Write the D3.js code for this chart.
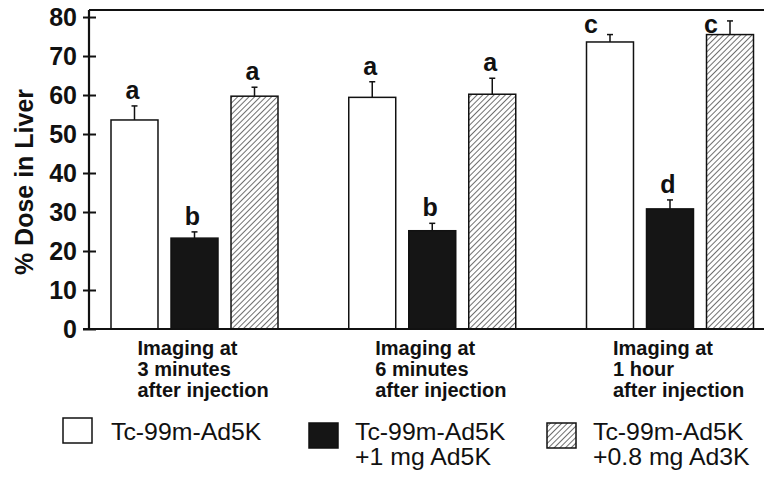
<!DOCTYPE html>
<html>
<head>
<meta charset="utf-8">
<script src="https://cdn.jsdelivr.net/npm/d3@7"></script>
<style>
  body { margin: 0; background: #fff; }
  svg { display: block; }
  text { font-family: "Liberation Sans", Arial, Helvetica, sans-serif; fill: #111; }
</style>
</head>
<body>
<div id="chart"></div>
<script>
const groups = ["3 minutes", "6 minutes", "1 hour"];
const groupLabels = [
    ["Imaging at", "3 minutes", "after injection"],
    ["Imaging at", "6 minutes", "after injection"],
    ["Imaging at", "1 hour", "after injection"]
];
const series = ["Tc-99m-Ad5K", "Tc-99m-Ad5K +1 mg Ad5K", "Tc-99m-Ad5K +0.8 mg Ad3K"];
const seriesLegend = [["Tc-99m-Ad5K"], ["Tc-99m-Ad5K", "+1 mg Ad5K"], ["Tc-99m-Ad5K", "+0.8 mg Ad3K"]];

const ad5k = [53.6, 59.4, 73.6];
const ad5kErr = [3.6, 4.0, 1.9];
const ad5kBlock = [23.3, 25.2, 30.8];
const ad5kBlockErr = [1.6, 1.9, 2.3];
const ad3kBlock = [59.7, 60.2, 75.5];
const ad3kBlockErr = [2.3, 4.1, 3.5];

const letters = [["a", "a", "c"], ["b", "b", "d"], ["a", "a", "c"]];
const yTicks = [0, 10, 20, 30, 40, 50, 60, 70, 80];

const values = [ad5k, ad5kBlock, ad3kBlock];
const errors = [ad5kErr, ad5kBlockErr, ad3kBlockErr];

const width = 764, height = 478;
const plot = {left: 89, right: 764, top: 10, bottom: 329};

const svg = d3.select('#chart').append('svg')
    .attr('width', width)
    .attr('height', height);

const defs = svg.append('defs');
const hatch = defs.append('pattern')
    .attr('id', 'hatch')
    .attr('patternUnits', 'userSpaceOnUse')
    .attr('width', 4)
    .attr('height', 4)
    .attr('patternTransform', 'rotate(45)');
hatch.append('rect').attr('width', 4).attr('height', 4).attr('fill', '#fff');
hatch.append('line')
    .attr('x1', 0).attr('y1', 0).attr('x2', 0).attr('y2', 4)
    .attr('stroke', '#222')
    .attr('stroke-width', 1.3);

const fills = ['#fff', '#151515', 'url(#hatch)'];

const x = d3.scalePoint()
    .domain(groups)
    .range([plot.left + 105.5, plot.right - 94]);

const xInner = d3.scaleBand()
    .domain(series)
    .range([-83.5, 83.5])
    .paddingInner(0.217);

const y = d3.scaleLinear()
    .domain([0, 81.8])
    .range([plot.bottom, plot.top]);

// top frame line
svg.append('line')
    .attr('x1', plot.left).attr('x2', plot.right)
    .attr('y1', y(81.8)).attr('y2', y(81.8))
    .attr('stroke', '#111').attr('stroke-width', 2);

// bars
const barData = [];
series.forEach((s, si) => {
    groups.forEach((g, gi) => {
        barData.push({s, si, g, gi, v: values[si][gi], e: errors[si][gi], letter: letters[si][gi]});
    });
});

const bars = svg.append('g');

bars.selectAll('.err')
    .data(barData)
    .enter().append('g')
    .attr('class', 'err')
    .each(function(d) {
        const cx = x(d.g) + xInner(d.s) + xInner.bandwidth() / 2;
        const g = d3.select(this);
        g.append('line')
            .attr('x1', cx).attr('x2', cx)
            .attr('y1', y(d.v)).attr('y2', y(d.v + d.e))
            .attr('stroke', '#111').attr('stroke-width', 1.5);
        g.append('line')
            .attr('x1', cx - 3).attr('x2', cx + 3)
            .attr('y1', y(d.v + d.e)).attr('y2', y(d.v + d.e))
            .attr('stroke', '#111').attr('stroke-width', 1.5);
    });

bars.selectAll('.bar')
    .data(barData)
    .enter().append('rect')
    .attr('class', 'bar')
    .attr('x', d => x(d.g) + xInner(d.s))
    .attr('y', d => y(d.v))
    .attr('width', xInner.bandwidth())
    .attr('height', d => y(0) - y(d.v))
    .attr('fill', d => fills[d.si])
    .attr('stroke', '#111')
    .attr('stroke-width', 1.5);

// significance letters (moved left of the bar when too close to the top)
bars.selectAll('.letter')
    .data(barData)
    .enter().append('text')
    .attr('class', 'letter')
    .attr('x', d => {
        const cx = x(d.g) + xInner(d.s) + xInner.bandwidth() / 2;
        return y(d.v + d.e) - 8 < 40 ? cx - 19 : cx - 2;
    })
    .attr('y', d => y(d.v + d.e) - 8 < 40 ? 33 : y(d.v + d.e) - 7)
    .attr('text-anchor', 'middle')
    .style('font-size', '25px')
    .style('font-weight', 'bold')
    .text(d => d.letter);

// y axis
const yAxis = svg.append('g')
    .attr('transform', `translate(${plot.left},0)`)
    .call(d3.axisLeft(y).tickValues(yTicks).tickSize(6).tickPadding(6));
yAxis.select('.domain').remove();
yAxis.selectAll('.tick line')
    .attr('x1', 7)
    .attr('stroke', '#111')
    .attr('stroke-width', 2);
yAxis.selectAll('.tick text')
    .style('font-family', '"Liberation Sans", Arial, sans-serif')
    .style('font-size', '25px')
    .style('font-weight', 'bold')
    .attr('fill', '#111');

svg.append('line')
    .attr('x1', plot.left).attr('x2', plot.left)
    .attr('y1', y(81.8)).attr('y2', y(0) + 1)
    .attr('stroke', '#111').attr('stroke-width', 2.2);

svg.append('line')
    .attr('x1', plot.left - 6).attr('x2', plot.right)
    .attr('y1', y(0)).attr('y2', y(0))
    .attr('stroke', '#111').attr('stroke-width', 2);

svg.append('text')
    .attr('transform', `translate(33,${182}) rotate(-90)`)
    .attr('text-anchor', 'middle')
    .style('font-size', '25px')
    .style('font-weight', 'bold')
    .text('% Dose in Liver');

// category labels, one text per line
const cat = svg.append('g');
groups.forEach((g, gi) => {
    groupLabels[gi].forEach((line, li) => {
        cat.append('text')
            .attr('x', x(g) - 57)
            .attr('y', 355 + li * 21)
            .style('font-size', '20px')
            .style('font-weight', 'bold')
            .text(line);
    });
});

// legend
const legendX = [63, 309, 547];
const legend = svg.append('g');
series.forEach((s, si) => {
    const lx = legendX[si];
    legend.append('rect')
        .attr('x', lx)
        .attr('y', si === 0 ? 418 : 423)
        .attr('width', 29)
        .attr('height', 25)
        .attr('fill', fills[si])
        .attr('stroke', '#111')
        .attr('stroke-width', 1.5);
    const tx = lx + (si === 0 ? 48 : 46);
    seriesLegend[si].forEach((line, li) => {
        legend.append('text')
            .attr('transform', `translate(${tx},${(si === 0 ? 440 : 440) + li * 25}) scale(1.08,1)`)
            .style('font-size', '23px')
            .text(line);
    });
});
</script>
</body>
</html>
